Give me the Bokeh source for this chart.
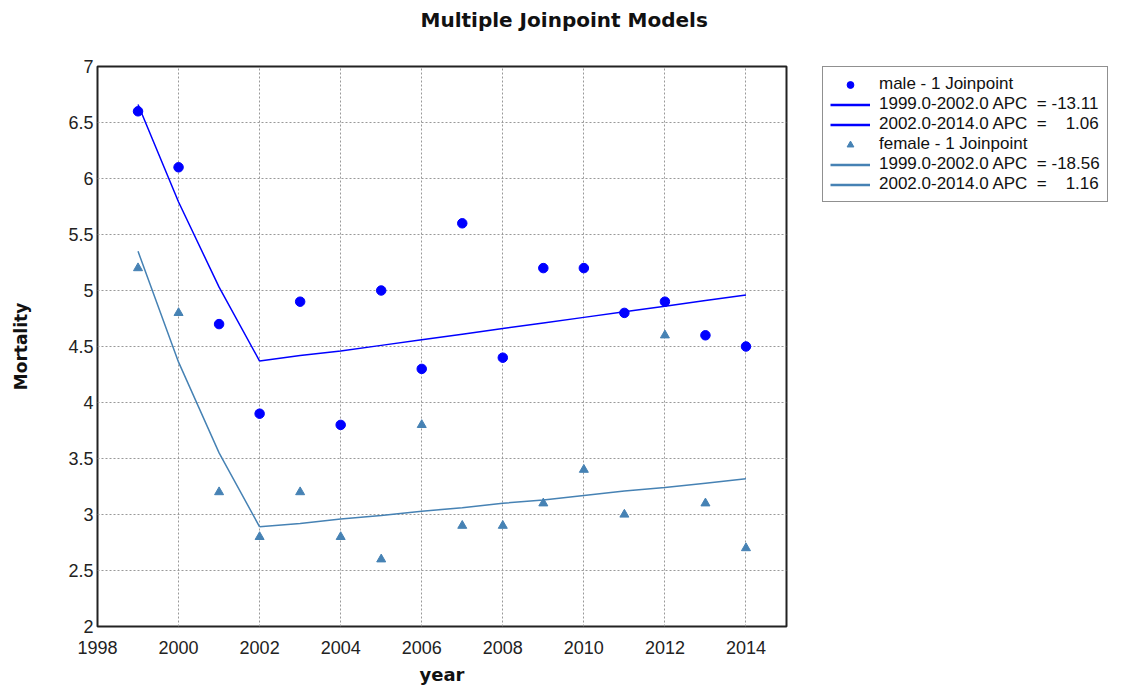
from bokeh.plotting import figure
from bokeh.layouts import row
from bokeh.models import Legend, LegendItem, Title, FixedTicker, Range1d
from bokeh.embed import file_html
from bokeh.resources import INLINE

years = [1999, 2000, 2001, 2002, 2003, 2004, 2005, 2006, 2007, 2008, 2009, 2010, 2011, 2012, 2013, 2014]
male_obs = [6.6, 6.1, 4.7, 3.9, 4.9, 3.8, 5.0, 4.3, 5.6, 4.4, 5.2, 5.2, 4.8, 4.9, 4.6, 4.5]
female_obs = [5.2, 4.8, 3.2, 2.8, 3.2, 2.8, 2.6, 3.8, 2.9, 2.9, 3.1, 3.4, 3.0, 4.6, 3.1, 2.7]

seg1_years = [1999, 2000, 2001, 2002]
seg2_years = [2002, 2003, 2004, 2005, 2006, 2007, 2008, 2009, 2010, 2011, 2012, 2013, 2014]
male_fit1 = [6.66, 5.79, 5.03, 4.37]
male_fit2 = [4.37, 4.42, 4.46, 4.51, 4.56, 4.61, 4.66, 4.71, 4.76, 4.81, 4.86, 4.91, 4.96]
female_fit1 = [5.35, 4.36, 3.55, 2.89]
female_fit2 = [2.89, 2.92, 2.96, 2.99, 3.03, 3.06, 3.10, 3.13, 3.17, 3.21, 3.24, 3.28, 3.32]

legend_labels = [
    "male - 1 Joinpoint",
    "1999.0-2002.0 APC\u00a0\u00a0= -13.11",
    "2002.0-2014.0 APC\u00a0\u00a0=\u00a0\u00a0\u00a0 1.06",
    "female - 1 Joinpoint",
    "1999.0-2002.0 APC\u00a0\u00a0= -18.56",
    "2002.0-2014.0 APC\u00a0\u00a0=\u00a0\u00a0\u00a0 1.16",
]
x_ticks = [1998, 2000, 2002, 2004, 2006, 2008, 2010, 2012, 2014]
y_ticks = [2, 2.5, 3, 3.5, 4, 4.5, 5, 5.5, 6, 6.5, 7]

MALE = "#0000FF"
FEMALE = "#4682B4"

p = figure(width=800, height=689, output_backend="svg", toolbar_location=None,
           x_range=Range1d(1998, 2015), y_range=Range1d(2, 7),
           min_border_left=97, min_border_right=14, min_border_top=66, min_border_bottom=63)
p.background_fill_color = "white"
p.border_fill_color = "white"
p.outline_line_color = "#222222"
p.outline_line_width = 2

# spacer (closest to the frame) pushes the title up towards the top edge
spacer = Title(text=" ", text_font_size="1px", standoff=27, text_color="white")
p.add_layout(spacer, "above")
title = Title(text="Multiple Joinpoint Models", align="left", offset=323, standoff=10,
              text_font="DejaVu Sans", text_font_size="20px", text_font_style="bold",
              text_color="#111111")
p.add_layout(title, "above")

for ax in (p.xaxis[0], p.yaxis[0]):
    ax.axis_line_color = None
    ax.major_tick_line_color = None
    ax.minor_tick_line_color = None
    ax.major_tick_out = 0
    ax.major_tick_in = 0
    ax.minor_tick_out = 0
    ax.minor_tick_in = 0
    ax.major_label_text_font = "Liberation Sans"
    ax.major_label_text_font_size = "18px"
    ax.major_label_text_color = "#222222"
    ax.axis_label_text_font = "DejaVu Sans"
    ax.axis_label_text_font_style = "bold"
    ax.axis_label_text_color = "#111111"

p.xaxis.axis_label_text_font_size = "18px"
p.yaxis.axis_label_text_font_size = "17px"
p.xaxis.ticker = FixedTicker(ticks=x_ticks)
p.yaxis.ticker = FixedTicker(ticks=y_ticks)
p.xaxis.axis_label = "year"
p.yaxis.axis_label = "Mortality"
p.xaxis.major_label_standoff = 14
p.yaxis.major_label_standoff = 4
p.xaxis.axis_label_standoff = 7
p.yaxis.axis_label_standoff = 34

p.grid.grid_line_color = "#999999"
p.grid.grid_line_dash = "2 2"
p.grid.grid_line_width = 1
p.xgrid.ticker = FixedTicker(ticks=x_ticks)
p.ygrid.ticker = FixedTicker(ticks=y_ticks)

p.scatter(years, male_obs, marker="circle", size=9.5, color=MALE)
p.line(seg1_years, male_fit1, line_color=MALE, line_width=1.5)
p.line(seg2_years, male_fit2, line_color=MALE, line_width=1.5)
p.scatter(years, female_obs, marker="triangle", size=9, color=FEMALE)
p.line(seg1_years, female_fit1, line_color=FEMALE, line_width=1.5)
p.line(seg2_years, female_fit2, line_color=FEMALE, line_width=1.5)

# legend panel: a second figure whose ranges hold none of the data, so only its legend shows
q = figure(width=325, height=689, output_backend="svg", toolbar_location=None,
           x_range=Range1d(0, 1), y_range=Range1d(0, 1),
           x_axis_location=None, y_axis_location=None,
           min_border=0, min_border_left=22)
q.outline_line_color = None
q.grid.visible = False
q.background_fill_color = "white"
q.border_fill_color = "white"

l_m = q.scatter(years, male_obs, marker="circle", size=7, color=MALE)
l_m1 = q.line(seg1_years, male_fit1, line_color=MALE, line_width=2.5)
l_m2 = q.line(seg2_years, male_fit2, line_color=MALE, line_width=2.5)
l_f = q.scatter(years, female_obs, marker="triangle", size=6, color=FEMALE)
l_f1 = q.line(seg1_years, female_fit1, line_color=FEMALE, line_width=2.5)
l_f2 = q.line(seg2_years, female_fit2, line_color=FEMALE, line_width=2.5)

renderers = [l_m, l_m1, l_m2, l_f, l_f1, l_f2]
items = [LegendItem(label=l, renderers=[r]) for l, r in zip(legend_labels, renderers)]
legend = Legend(items=items, location="top_left")
legend.label_text_font = "Liberation Sans"
legend.label_text_font_size = "17px"
legend.label_text_color = "#111111"
legend.label_height = 17
legend.glyph_height = 17
legend.glyph_width = 40
legend.spacing = 0
legend.padding = 7
legend.margin = 0
legend.label_standoff = 9
legend.border_line_color = "#222222"
legend.border_line_width = 1.5
legend.background_fill_alpha = 1
q.add_layout(legend)

layout = row(p, q)
open("out.html", "w").write(file_html(layout, INLINE))
